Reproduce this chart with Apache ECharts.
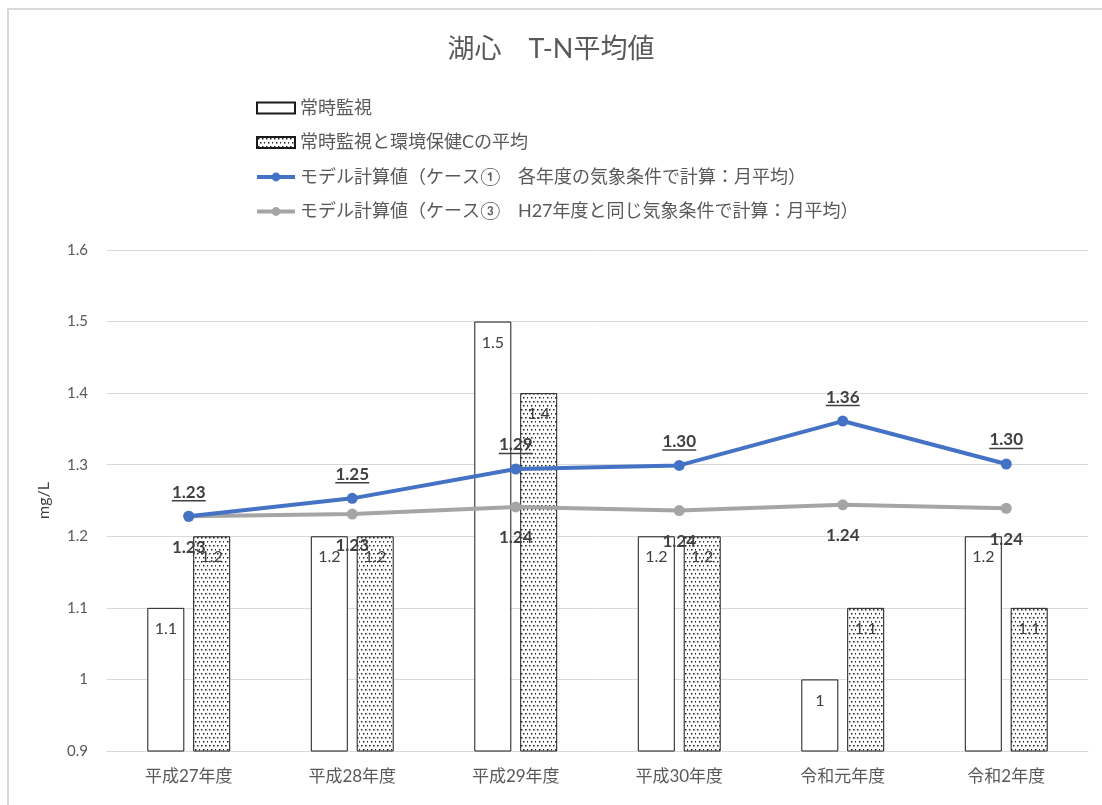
<!DOCTYPE html>
<html>
<head>
<meta charset="utf-8">
<script src="https://cdn.jsdelivr.net/npm/echarts@6/dist/echarts.min.js"></script>
<style>
  html, body { margin: 0; padding: 0; background: #fff; overflow: hidden; }
  #frame {
    position: absolute; left: 7px; top: 8px; width: 1200px; height: 900px;
    border-left: 2px solid #d9d9d9; border-top: 2px solid #d9d9d9;
  }
  #chart { position: absolute; left: 0; top: 0; width: 1102px; height: 805px; }
</style>
</head>
<body>
<div id="frame"></div>
<div id="chart"></div>
<script>
const categories = ["平成27年度", "平成28年度", "平成29年度", "平成30年度", "令和元年度", "令和2年度"];
const monitorValues = [1.1, 1.2, 1.5, 1.2, 1.0, 1.2];
const monitorAvgValues = [1.2, 1.2, 1.4, 1.2, 1.1, 1.1];
const case1Values = [1.228, 1.253, 1.294, 1.299, 1.361, 1.301];
const case3Values = [1.228, 1.231, 1.241, 1.236, 1.244, 1.239];
const yTicks = { min: 0.9, max: 1.6, interval: 0.1 };

const seriesNames = [
  "常時監視",
  "常時監視と環境保健Cの平均",
  "モデル計算値（ケース①　各年度の気象条件で計算：月平均）",
  "モデル計算値（ケース③　H27年度と同じ気象条件で計算：月平均）",
];

const font = "Lato, 'Noto Sans CJK JP', sans-serif";
const textColor = "#595959";

// dotted fill like the Excel pattern
function makeDots() {
  const c = document.createElement("canvas");
  c.width = 8;
  c.height = 8;
  const ctx = c.getContext("2d");
  ctx.fillStyle = "#fff";
  ctx.fillRect(0, 0, 8, 8);
  ctx.fillStyle = "#222";
  [[1, 1], [5, 1], [3, 5], [7, 5]].forEach(([x, y]) => ctx.fillRect(x, y, 1.5, 1.5));
  return c;
}
const dots = { image: makeDots(), repeat: "repeat" };

const chart = echarts.init(document.getElementById("chart"));

const barLabel = {
  show: true,
  position: "insideTop",
  distance: 13,
  color: "#404040",
  fontSize: 16,
  fontFamily: font,
  formatter: (p) => String(p.value),
};

chart.setOption({
  animation: false,
  textStyle: { fontFamily: font },
  title: {
    text: "湖心　T-N平均値",
    left: "center",
    top: 31,
    textStyle: { fontSize: 27, fontWeight: "normal", color: textColor, fontFamily: font },
  },
  legend: {
    orient: "vertical",
    left: 250,
    top: 94,
    itemGap: 16.5,
    itemWidth: 38,
    itemHeight: 11,
    textStyle: { fontSize: 18, color: textColor, fontFamily: font },
    data: [
      { name: seriesNames[0], icon: "rect" },
      { name: seriesNames[1], icon: "rect" },
      { name: seriesNames[2], lineStyle: { width: 4 } },
      { name: seriesNames[3], lineStyle: { width: 4 } },
    ],
  },
  grid: { left: 107, right: 14, top: 250, bottom: 54 },
  xAxis: {
    type: "category",
    data: categories,
    axisLine: { lineStyle: { color: "#d9d9d9", width: 1 } },
    axisTick: { show: false },
    axisLabel: { fontSize: 17, color: textColor, margin: 17, fontFamily: font },
  },
  yAxis: {
    type: "value",
    min: yTicks.min,
    max: yTicks.max,
    interval: yTicks.interval,
    name: "mg/L",
    nameLocation: "middle",
    nameGap: 55,
    nameTextStyle: { fontSize: 16, color: "#404040", fontFamily: font },
    axisLine: { show: false },
    axisTick: { show: false },
    splitLine: { lineStyle: { color: "#d9d9d9" } },
    axisLabel: {
      fontSize: 15,
      color: textColor,
      margin: 19,
      fontFamily: font,
      formatter: (v) => String(+v.toFixed(1)),
    },
  },
  series: [
    {
      name: seriesNames[0],
      type: "bar",
      data: monitorValues,
      barWidth: 37,
      barGap: "24%",
      itemStyle: { color: "#fff", borderColor: "#1a1a1a", borderWidth: 1 },
      label: barLabel,
    },
    {
      name: seriesNames[1],
      type: "bar",
      data: monitorAvgValues,
      barWidth: 37,
      barGap: "24%",
      itemStyle: { color: dots, borderColor: "#1a1a1a", borderWidth: 1 },
      label: barLabel,
    },
    {
      name: seriesNames[2],
      type: "line",
      data: case1Values,
      z: 5,
      symbol: "circle",
      symbolSize: 11,
      lineStyle: { color: "#4472C4", width: 4 },
      itemStyle: { color: "#4472C4" },
      label: {
        show: true,
        position: "top",
        distance: 9,
        formatter: (p) => "{t|" + p.value.toFixed(2) + "}\n{u|}",
        rich: {
          t: { fontSize: 17, fontWeight: "bold", color: "#404040", fontFamily: font, lineHeight: 15 },
          u: { width: 34, height: 1.5, backgroundColor: "#404040", lineHeight: 2 },
        },
      },
    },
    {
      name: seriesNames[3],
      type: "line",
      data: case3Values,
      z: 4,
      symbol: "circle",
      symbolSize: 11,
      lineStyle: { color: "#A5A5A5", width: 4 },
      itemStyle: { color: "#A5A5A5" },
      label: {
        show: true,
        position: "bottom",
        distance: 17,
        fontSize: 17,
        fontWeight: "bold",
        color: "#404040",
        fontFamily: font,
        formatter: (p) => p.value.toFixed(2),
      },
    },
  ],
});
</script>
</body>
</html>
